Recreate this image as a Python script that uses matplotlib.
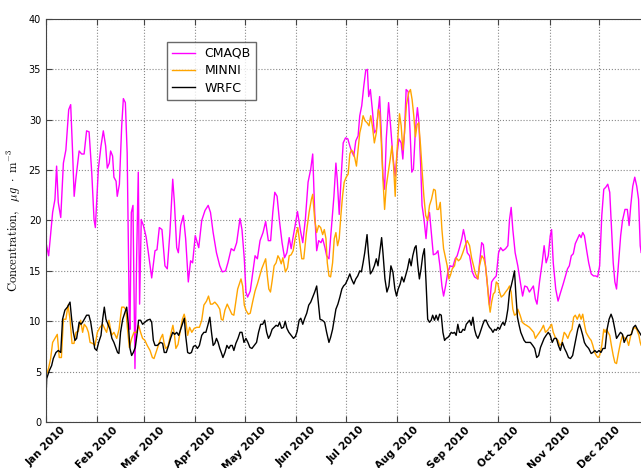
import numpy as np
import pandas as pd
import matplotlib
matplotlib.use('Agg')
import matplotlib.pyplot as plt
import matplotlib.dates as mdates

#========================== data (day of 2010, value) ===========================#
cmaq_day = [0, 1.6, 4, 5.4, 6.4, 7.4, 8.9, 10.5, 12, 13.7, 14.9, 16, 17, 18, 20, 21.5, 23, 24.5, 26, 27.6,
            29, 29.8, 31.6, 33.2, 34.6, 36, 37, 38.2, 39, 40.2, 41, 42.3, 43, 44.3, 45.7, 46.7, 47.9, 49, 50.3, 50.7,
            51.5, 52.5, 53.7, 54.7, 55.7, 56.5, 57.5, 58.8, 60.4, 61.8, 63.8, 65.8, 67, 68.4, 70, 71.8, 73.2, 74.8, 76.5, 77.5,
            78.9, 79.9, 81.3, 82.9, 84.3, 85.9, 87.3, 88.5, 90.1, 92.2, 94, 96, 97.9, 99.3, 100.9, 102.9, 104.9, 106.4, 108.4, 109.8,
            111.8, 113.5, 115.1, 117.1, 118.3, 119.7, 120.7, 121.7, 123.3, 124.7, 126.2, 127.6, 129.2, 131, 132.6, 134.2, 135.6, 136.9, 138.1, 139.5,
            140.9, 142.5, 144, 145.4, 146.8, 148, 149, 150.4, 151.8, 153.6, 155, 156.6, 158.2, 159.8, 161, 162.2, 163.4, 164.6, 166, 167,
            168.4, 169.4, 170.8, 172.4, 173.8, 175, 175.8, 177, 178.2, 179.4, 180.8, 182.2, 183.4, 184.4, 185.8, 187, 188.4, 189.4, 190.6, 191.8,
            193, 194, 194.8, 195.8, 197, 198.2, 199.4, 200.4, 201.4, 202.4, 203.4, 204.4, 205.4, 206.8, 208, 209.4, 210.8, 212, 213, 214.4,
            215.4, 216.4, 217.4, 218.6, 219.8, 220.8, 221.8, 223, 224.2, 225, 226.2, 227, 228.2, 229.4, 230.4, 231.5, 232.6, 233.8, 235.3, 236.6,
            237.8, 239, 240, 241.2, 242.6, 244, 245.6, 247, 248.2, 249.6, 251, 252, 253, 254.3, 255.7, 257.3, 258.7, 260.7, 261.7, 263,
            264, 265.3, 266.7, 267.7, 269, 270.2, 271.8, 273.2, 274.4, 275.8, 277.4, 278.8, 279.8, 280.8, 281.8, 283.2, 284.8, 286.3, 287.7, 289,
            290.4, 291.8, 293, 294.2, 295.4, 296.4, 297.9, 299.5, 300.7, 301.9, 303.2, 304.4, 305.2, 306.2, 307.7, 309.1, 310.7, 312.2, 313.4, 314.8,
            315.9, 317.1, 318.3, 319.5, 320.9, 322, 323, 324, 325, 326.4, 327.6, 329.1, 330.5, 331.8, 333, 334.2, 335.5, 336.7, 337.9, 339.1,
            340.3, 341.3, 342.4, 343.4, 344.4, 345.6, 346.9, 348, 349.5, 350.9, 352, 353, 354.2, 355.4, 356.6, 357.7, 358.7, 359.3, 360.5]
cmaq_val = [17.8, 16.5, 20.8, 22.1, 25.4, 21.8, 20.3, 25.7, 27, 31, 31.5, 27, 22.4, 24.1, 26.9, 26.6, 26.6, 28.9, 28.8, 24.8,
            20.1, 19.3, 25.1, 27.4, 28.9, 27.4, 25.2, 25.7, 26.9, 26.4, 24.3, 23.9, 22.4, 23.6, 29.4, 32.1, 31.7, 26.7, 10.2, 9.2,
            20.8, 21.5, 5.3, 16.2, 24.8, 11.7, 20.1, 19.5, 18.4, 16.8, 14.3, 17, 17.1, 19.3, 19.1, 15.5, 15.2, 18.8, 24.1, 21.8,
            17.3, 16.8, 19.5, 20.5, 18.2, 13.9, 16, 15.8, 18.5, 17.3, 20, 21, 21.5, 20.8, 18.8, 16.8, 15.5, 14.9, 15, 15.8,
            17.2, 17, 17.8, 20.2, 19.1, 16.2, 12.9, 12.4, 13, 14.7, 16.5, 16.2, 18, 18.8, 19.9, 18, 18, 20.8, 22.8, 22.4,
            20, 17.8, 16.3, 16.8, 18.3, 17.2, 18.2, 19.5, 20.9, 19, 17.8, 20.2, 23.8, 25.1, 26.6, 20.8, 17, 18, 17.8, 18.2,
            17.3, 16.5, 16.2, 19.5, 22.4, 25.7, 24.1, 20.6, 24.4, 27.7, 28.2, 28.1, 27.4, 26.9, 26.4, 27.9, 28.4, 30.4, 31.4, 33.3,
            34.9, 35, 32.3, 33, 31, 28.7, 29, 30.7, 32.3, 28.7, 24.4, 23.1, 28.1, 31.7, 29.4, 26.4, 24.4, 26.7, 28.1, 27.7,
            26.1, 28.7, 33, 32.8, 28.7, 24.8, 25.1, 29, 31.2, 30, 25.4, 21.5, 20.1, 18.2, 20.2, 20.8, 18.8, 16.6, 16.7, 17,
            15.5, 13.5, 12.5, 13.5, 14.9, 15.5, 15.4, 16.2, 16.5, 17.3, 18.2, 19.1, 18.3, 16.8, 16.5, 14.9, 14.4, 14.2, 15.8, 17.8,
            17.6, 15.5, 13.2, 11.6, 13.9, 14.2, 14.5, 16.8, 17.3, 17, 17.2, 17.5, 20.1, 21.3, 19.1, 16.8, 15.5, 13.9, 12.5, 13.5,
            13.4, 12.9, 13.2, 13.5, 12.2, 11.7, 13.9, 15.8, 17.5, 15.8, 16.5, 18.5, 19.1, 15.8, 13.2, 12, 12.9, 13.7, 14.4, 15.2,
            15.5, 16.5, 16.7, 17.7, 18.2, 18.6, 18.3, 18.8, 18.5, 17, 15.8, 14.7, 14.5, 14.5, 14.4, 15.5, 20.5, 23.1, 23.3, 23.6,
            22.8, 19.5, 15.8, 13.9, 13.2, 15.8, 18.5, 20, 21.1, 21.1, 19.5, 21.5, 23.4, 24.3, 23.4, 22.1, 17.5, 16.8, 17]

minni_day = [0, 1.5, 2.8, 4, 5.4, 6.8, 8, 9.3, 10.5, 12, 13.3, 14.5, 15.7, 16.9, 18.1, 19.5, 20.9, 22.1, 23.1, 24.5,
             25.6, 26.6, 28.2, 29.6, 31, 32.6, 34.2, 35.6, 36.6, 38, 39.6, 41, 42.7, 44.1, 45.7, 47.1, 48.3, 49.1, 50.3, 51.7,
             53.1, 54.7, 55.9, 57.1, 58.3, 59.7, 61.1, 62.8, 64.2, 65.2, 66.4, 67.8, 69.2, 70.4, 71.2, 72.2, 73.6, 75.2, 76.6, 77.5,
             78.4, 79.7, 80.9, 82.3, 83.4, 84.3, 85.5, 86.7, 88, 89.5, 91, 92.6, 94, 95.3, 96.9, 98.1, 99.3, 100.5, 101.9, 103.5,
             104.9, 105.8, 106.8, 108, 109.4, 110.8, 112.2, 113.4, 114.3, 115.7, 116.7, 117.7, 118.7, 119.7, 120.7, 122.1, 123.3, 124.7, 126.2, 127.6,
             129, 130.2, 131.6, 132.6, 133.6, 134.5, 135.5, 136.5, 137.7, 138.9, 140, 141, 142, 143, 144.5, 145.8, 146.8, 148, 149.2, 150.4,
             152, 153.4, 154.4, 155.6, 157.2, 158.8, 160.2, 161, 162.2, 163.4, 164.6, 165.8, 167, 168, 169, 169.8, 170.8, 171.8, 173, 174,
             175, 176, 177, 178, 179, 180, 181.2, 182.4, 183.4, 184.4, 185.4, 186.4, 187.4, 188.4, 189.4, 190.4, 191.4, 192.6, 193.8, 195,
             196, 197, 198.2, 199.4, 200.6, 201.4, 202.4, 203.4, 204.4, 205.4, 206.6, 207.8, 208.8, 209.8, 210.8, 211.6, 212.6, 213.4, 214.4, 215.4,
             216.4, 217.6, 219, 220, 221, 222, 223, 224, 225, 226.1, 227.1, 228.1, 229.2, 230.4, 231.5, 232.7, 234, 235, 236, 237,
             238, 239, 240, 241.2, 242.2, 243.2, 244.2, 245.2, 246.6, 247.6, 249, 250.2, 251.6, 253, 254.3, 255.7, 256.9, 258.1, 259.3, 260.7,
             261.7, 263.1, 264.3, 265.3, 266.3, 267.3, 268.1, 269, 270, 271, 271.8, 272.8, 273.8, 274.8, 276.2, 277.4, 278.8, 279.8, 280.8, 281.8,
             282.8, 283.8, 284.8, 286.2, 287.5, 288.9, 290, 291.8, 293.4, 294.4, 295.4, 296.6, 297.9, 299.1, 300.3, 301.5, 302.8, 304, 305.2, 306.2,
             307.7, 309.1, 310.1, 311.3, 312.8, 313.8, 315, 316.3, 317.5, 318.5, 319.5, 320.7, 322, 323, 324, 325, 326, 327, 328.1, 329.1,
             330.1, 331.2, 332.2, 333.2, 334.2, 335.5, 336.7, 337.5, 338.3, 339.3, 340.3, 341.3, 342.4, 343.4, 344.4, 345.6, 346.8, 348, 349.3, 350.5,
             351.7, 353, 354.2, 355.4, 356.6, 357.9, 358.7, 359.3, 360.5]
minni_val = [4.6, 5.3, 6.3, 7.9, 8.3, 8.7, 6.4, 6.4, 10.2, 10.2, 11.6, 10.2, 7.8, 7.8, 8.9, 9, 10.1, 8.9, 9.7, 9.4,
             8.9, 7.9, 7.8, 7.6, 8.9, 9.4, 9.7, 9.2, 8.9, 10.1, 8.6, 8.9, 8.3, 9.2, 11.4, 11.4, 11.1, 9.4, 7.4, 8.3,
             8.9, 8.9, 9.6, 8.9, 8.3, 8.1, 7.6, 7.1, 6.4, 6.3, 6.9, 7.6, 8.3, 8.7, 7.9, 7.3, 7.5, 8.6, 9.6, 8.7,
             7.3, 7.7, 8.9, 10.2, 10.7, 10.1, 8.6, 9.4, 8.9, 9.3, 9.4, 9.4, 10.1, 11.6, 12, 12.5, 11.7, 11.7, 11.9, 11.6,
             11.2, 10.2, 10.1, 11.1, 11.7, 11.2, 10.7, 10.6, 11.6, 13.2, 13.7, 14.2, 13.5, 11.6, 11.1, 10.7, 10.8, 11.9, 13, 13.7,
             14.5, 15.2, 15.8, 16.2, 14.5, 13.2, 12.9, 14, 15.5, 15.8, 16.5, 16.2, 15.7, 16.3, 14.9, 15.3, 16.5, 16.6, 17, 18.2,
             19.3, 17.5, 16.2, 16.2, 18.8, 20.8, 22.1, 22.6, 20.1, 18.8, 19.5, 19.3, 18.6, 19.1, 18.2, 15.8, 14.5, 14.4, 15.8, 18.2,
             18.8, 17.5, 18.2, 20.5, 22.4, 23.8, 24.3, 24.6, 26.6, 27, 26.8, 26.2, 25.4, 27, 28.7, 29.4, 30.4, 29.9, 29.7, 29.4,
             30.4, 29.4, 27.7, 28.7, 31, 30.7, 27.7, 24.1, 21.1, 23.4, 24.8, 26.1, 27.4, 25.4, 22.4, 26.1, 28.7, 30.6, 29.4, 27,
             28.7, 31.5, 32.7, 33, 32, 30.4, 28.3, 29.5, 29.7, 27.4, 24.8, 22.4, 20.5, 20, 21.5, 22.1, 23.1, 23, 21.1, 21.1,
             21.8, 19.1, 17.2, 16.3, 15.5, 14.2, 14.6, 15.2, 15.5, 16.3, 16, 16.2, 16.8, 17.5, 18, 17.5, 16.3, 15.5, 14.7, 14.2,
             15.5, 16.5, 16.2, 15.5, 13.9, 11.9, 10.9, 11.9, 12.7, 12.9, 13.9, 13.7, 12.9, 12.4, 12.6, 12.9, 13.2, 13.5, 12.9, 11.2,
             10.6, 10.7, 11.2, 10.6, 9.9, 9.7, 9.6, 9.4, 9.1, 8.9, 8.3, 8.6, 8.9, 9.2, 9.6, 8.9, 9.1, 9.4, 9.7, 8.9,
             8.3, 8.1, 7.6, 7.8, 8.9, 8.7, 8.3, 8.9, 9.2, 10.4, 10.6, 10.2, 10.7, 10.2, 10.7, 9.7, 8.9, 8.6, 8.3, 8.1,
             7.6, 6.9, 6.6, 6.4, 6.6, 7.6, 9.2, 8.9, 9.2, 8.9, 8.6, 7.6, 6.6, 5.9, 5.8, 6.9, 7.9, 8.6, 8.3, 8.3,
             7.6, 8.6, 9.2, 9.4, 9.2, 8.6, 7.9, 7.6, 7.4]

wrfc_day = [0, 0.4, 2, 3.4, 4.4, 6, 7.4, 8.9, 10, 11.4, 12.9, 14.5, 15.5, 16.5, 17.5, 18.5, 20, 21.1, 22.1, 23.1,
            24.5, 25.9, 27, 28.2, 29.4, 30.6, 31.8, 33.2, 34.2, 35.2, 36.2, 37.4, 38.6, 39.8, 41, 42.3, 43.2, 44, 45, 46.3,
            47.7, 48.7, 49.7, 50.7, 51.7, 52.7, 53.9, 55.1, 55.9, 57.1, 58.3, 59.7, 61.1, 62.8, 63.8, 64.8, 65.8, 67.2, 68.4, 69.2,
            70.4, 71.4, 72.6, 74, 75.2, 76.5, 77.7, 78.9, 80.1, 81.3, 82.5, 83.5, 84.3, 85.5, 86.7, 87.8, 89, 90.2, 91.4, 92.6,
            94, 95.3, 96.5, 97.7, 98.9, 99.9, 100.9, 101.9, 102.9, 103.9, 104.9, 105.8, 106.8, 108, 109.2, 110.4, 111.4, 112.4, 113.4, 114.6,
            115.9, 117.1, 118.3, 119.5, 120.7, 121.9, 123.1, 124.3, 125.7, 127.1, 128.3, 129.6, 130.8, 132, 133.2, 134.3, 135.3, 136.5, 137.7, 138.9,
            140, 141, 142.2, 143.4, 144.4, 145.4, 146.6, 148, 149.4, 150.6, 151.6, 152.8, 153.8, 155, 156.2, 157.4, 158.6, 159.8, 161, 162.2,
            163.4, 164.4, 165.4, 166.8, 168.2, 169.4, 170.8, 171.8, 173, 174, 175, 176.2, 177.4, 178.6, 179.6, 180.8, 182.2, 183.4, 184.4, 185.8,
            187, 188.2, 189.4, 190.4, 191.4, 192.4, 193.8, 194.6, 195.8, 197, 198.2, 199.4, 200.4, 201.4, 202.6, 203.4, 204.6, 205.8, 207, 208.2,
            209.4, 210.6, 211.6, 212.6, 213.8, 214.8, 216, 217, 218.2, 219.4, 220.4, 221.4, 222.6, 223.4, 224.4, 225.4, 226.4, 227.4, 228.4, 229.4,
            230.4, 231.5, 232.5, 233.4, 234.5, 235.5, 236.6, 237.6, 238.6, 239.6, 240.6, 241.6, 242.6, 243.6, 244.6, 245.6, 246.6, 247.6, 248.6, 249.6,
            250.7, 251.7, 252.7, 253.7, 254.7, 255.7, 256.7, 257.7, 258.7, 259.7, 260.7, 261.7, 262.7, 263.7, 264.7, 265.7, 266.7, 267.7, 268.8, 269.8,
            270.8, 271.8, 272.8, 273.8, 274.8, 275.8, 276.8, 277.8, 278.8, 279.8, 280.8, 281.8, 282.8, 283.7, 284.6, 285.6, 286.6, 287.6, 288.6, 289.6,
            291, 292.4, 293.8, 295, 296.2, 297.4, 298.5, 299.5, 300.7, 301.9, 303.2, 304.4, 305.6, 306.8, 308.1, 309.3, 310.5, 311.7, 313, 314.2,
            315.4, 316.6, 317.9, 319.1, 319.9, 321, 322, 323, 324, 325, 326, 327.6, 329.1, 330.1, 331.3, 332.5, 333.8, 335, 336.2, 337.5,
            338.7, 339.9, 341.1, 342.2, 343.4, 344.4, 345.6, 346.8, 348, 349, 350.1, 351.1, 352.2, 353.4, 354.6, 355.8, 357, 358.2, 359.3, 360.5]
wrfc_val = [2.3, 4.3, 5.1, 5.6, 6.3, 6.9, 7.1, 6.9, 10.2, 11.1, 11.4, 11.9, 10.2, 8.9, 8.1, 8.3, 9.9, 9.7, 9.9, 10.2,
            10.6, 10.6, 9.9, 8.6, 7.3, 7.1, 7.9, 8.6, 10.2, 11.4, 10.2, 9.7, 9.2, 8.3, 7.9, 7.3, 6.9, 6.8, 8.9, 10.2,
            10.9, 11.4, 9.7, 7.3, 6.6, 6.9, 7.4, 8.9, 10.1, 10.1, 9.7, 9.9, 10.1, 10.2, 9.9, 8.1, 7.6, 7.6, 7.8, 7.9,
            7.8, 6.9, 6.9, 7.6, 8.3, 8.9, 8.7, 8.9, 8.6, 9.2, 9.8, 10.3, 8.6, 6.9, 6.8, 6.9, 7.5, 7.6, 7.3, 7.6,
            8.6, 8.9, 8.9, 9.6, 10.4, 8.9, 7.6, 7.8, 8.3, 7.9, 7.3, 6.9, 6.4, 6.9, 7.6, 7.3, 7.6, 7.6, 7.1, 7.8,
            8.3, 8.9, 8.9, 7.9, 8.3, 7.9, 7.4, 7.3, 7.6, 7.9, 8.9, 9.7, 9.7, 10.1, 8.9, 8.3, 8.6, 9.2, 9.4, 9.6,
            9.5, 9.9, 9.3, 9.4, 10, 9.3, 8.9, 8.6, 8.3, 8.5, 9, 10.1, 10.3, 9.7, 10.3, 10.8, 11.6, 11.9, 12.4, 12.9,
            13.5, 11.9, 10.2, 10.1, 9.9, 8.9, 7.9, 8.4, 9.2, 10.2, 11.2, 11.7, 12.4, 13.2, 13.5, 13.7, 14.2, 14.7, 14.2, 13.7,
            14.2, 14.5, 15, 14.9, 15.8, 16.8, 18.6, 16.8, 14.7, 15, 15.5, 16.2, 15.5, 16.8, 18.3, 16.8, 14.2, 12.9, 13.5, 15.5,
            14.9, 13.2, 12.5, 13.2, 13.7, 14.4, 13.9, 14.5, 15.2, 16.2, 15.5, 16.5, 17.3, 17.5, 15.6, 14.2, 15.2, 16.5, 17.2, 13.9,
            10.2, 9.9, 10.1, 10.6, 10.1, 10.6, 10.1, 10.7, 10.6, 8.9, 8.1, 8.3, 8.4, 8.6, 8.9, 8.8, 8.9, 8.6, 9.7, 8.9,
            8.9, 9.2, 9.1, 9.7, 9.9, 10.1, 9.6, 10.4, 9.2, 8.6, 8.3, 8.7, 9.2, 9.7, 10.1, 10.1, 9.7, 9.4, 9.2, 8.9,
            9.2, 9.1, 9.4, 9.2, 9.6, 9.9, 9.6, 10.2, 11.2, 12.9, 13.5, 14.2, 15, 12.5, 10.4, 9.6, 8.9, 8.5, 8.1, 7.9,
            7.9, 7.9, 7.6, 7.3, 6.4, 6.6, 7.4, 7.8, 8.3, 8.6, 8.9, 8.6, 7.9, 8.3, 8.3, 7.6, 7.1, 7.9, 7.3, 6.9,
            6.4, 6.3, 6.6, 7.6, 8.3, 9.2, 9.7, 9.2, 8.6, 7.9, 7.6, 7.3, 6.8, 6.9, 7.1, 6.9, 7.1, 6.9, 7.3, 7.3,
            9.2, 10.2, 10.7, 10.2, 9.2, 8.3, 8.6, 8.9, 8.7, 7.9, 8.3, 8.6, 8.6, 8.7, 9.4, 9.6, 9.2, 8.9, 8.6, 8.4]

labels = ['CMAQB', 'MINNI', 'WRFC']
colors = ['#ff00ff', '#ffa500', 'black']

#========================== dates ===========================#
start = pd.Timestamp('2010-01-01')
def to_dates(days):
    return start + pd.to_timedelta(np.array(days), unit='D')

#========================== plot ===========================#
plt.rcParams['mathtext.fontset'] = 'cm'
fig = plt.figure(figsize=(6.41, 4.68), dpi=100)
ax = fig.add_axes([46/641, 1 - 422/468, 603/641, 403/468])

for d, v, lab, c in zip([cmaq_day, minni_day, wrfc_day], [cmaq_val, minni_val, wrfc_val], labels, colors):
    ax.plot(to_dates(d), v, color=c, lw=1.0, label=lab)

ax.set_xlim(start, start + pd.Timedelta(days=364))
ax.set_ylim(0, 40)
ax.set_yticks(np.arange(0, 41, 5))
ax.xaxis.set_major_locator(mdates.MonthLocator())
ax.xaxis.set_major_formatter(mdates.DateFormatter('%b %Y'))
for t in ax.get_xticklabels():
    t.set_rotation(45)
    t.set_ha('center')
    t.set_fontweight('bold')
    t.set_fontsize(7.5)
ax.tick_params(axis='y', labelsize=7)
ax.tick_params(axis='x', pad=2)
ax.tick_params(direction='in', top=True, right=True, length=4, color='#444444')
for s in ax.spines.values():
    s.set_color('#444444')

ax.grid(True, linestyle=':', color='#888888', linewidth=0.8)
ax.set_ylabel(r'$\mathrm{Concentration,}\ \ \mu g\ \cdot\ \mathrm{m}^{-3}$', fontsize=9)

leg = ax.legend(loc='upper left', bbox_to_anchor=((167 - 46) / 603, (422 - 42) / 403),
                borderaxespad=0, fancybox=False, fontsize=9, handlelength=1.8, labelspacing=0.35)
leg.get_frame().set_edgecolor('#444444')
leg.get_frame().set_linewidth(1.0)

plt.savefig('out.png', dpi=100)
plt.close()
